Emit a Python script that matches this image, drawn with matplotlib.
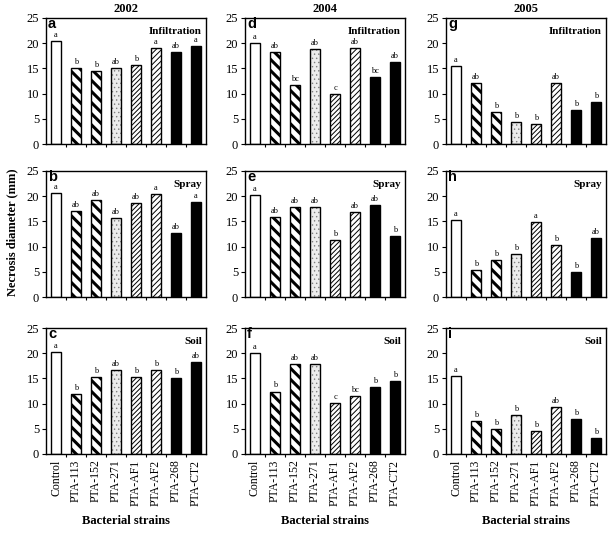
import matplotlib
matplotlib.use("Agg")
import matplotlib.pyplot as plt
import numpy as np

strains = ["Control", "PTA-113", "PTA-152", "PTA-271", "PTA-AF1", "PTA-AF2", "PTA-268", "PTA-CT2"]
years = ["2002", "2004", "2005"]
methods = ["Infiltration", "Spray", "Soil"]
panel_letters = [["a", "d", "g"], ["b", "e", "h"], ["c", "f", "i"]]

# values[row=method][col=year]
infil_2002 = [20.4, 15.1, 14.5, 15.0, 15.6, 19.1, 18.3, 19.4]
infil_2004 = [20.1, 18.2, 11.8, 18.9, 10.0, 19.1, 13.2, 16.2]
infil_2005 = [15.5, 12.1, 6.3, 4.4, 3.9, 12.1, 6.7, 8.3]
spray_2002 = [20.6, 17.0, 19.2, 15.7, 18.7, 20.5, 12.7, 18.8]
spray_2004 = [20.2, 15.9, 17.9, 17.9, 11.3, 16.9, 18.2, 12.1]
spray_2005 = [15.3, 5.3, 7.4, 8.5, 14.8, 10.3, 4.9, 11.8]
soil_2002 = [20.3, 11.9, 15.2, 16.7, 15.2, 16.7, 15.1, 18.2]
soil_2004 = [20.0, 12.4, 17.9, 17.9, 10.2, 11.6, 13.2, 14.4]
soil_2005 = [15.4, 6.6, 5.0, 7.7, 4.6, 9.3, 7.0, 3.2]

let_infil_2002 = ["a", "b", "b", "ab", "b", "a", "ab", "a"]
let_infil_2004 = ["a", "ab", "bc", "ab", "c", "ab", "bc", "ab"]
let_infil_2005 = ["a", "ab", "b", "b", "b", "ab", "b", "b"]
let_spray_2002 = ["a", "ab", "ab", "ab", "ab", "a", "ab", "a"]
let_spray_2004 = ["a", "ab", "ab", "ab", "b", "ab", "ab", "b"]
let_spray_2005 = ["a", "b", "b", "b", "a", "b", "b", "ab"]
let_soil_2002 = ["a", "b", "b", "ab", "b", "b", "b", "ab"]
let_soil_2004 = ["a", "b", "ab", "ab", "c", "bc", "b", "b"]
let_soil_2005 = ["a", "b", "b", "b", "b", "ab", "b", "b"]

values = [[infil_2002, infil_2004, infil_2005],
          [spray_2002, spray_2004, spray_2005],
          [soil_2002, soil_2004, soil_2005]]
letters = [[let_infil_2002, let_infil_2004, let_infil_2005],
           [let_spray_2002, let_spray_2004, let_spray_2005],
           [let_soil_2002, let_soil_2004, let_soil_2005]]

yticks = [0, 5, 10, 15, 20, 25]

# bar styles: (facecolor, hatch, hatchcolor, hatch linewidth)
styles = [
    ("white", None, None, 0),
    ("white", "\\" * 3, "black", 2.2),
    ("white", "\\" * 3, "black", 2.2),
    ("#ececec", "....", "#808080", 0.5),
    ("white", "/" * 7, "black", 0.7),
    ("white", "/" * 6, "black", 0.7),
    ("black", None, None, 0),
    ("black", None, None, 0),
]

W, H = 609, 533
fig = plt.figure(figsize=(W / 100, H / 100), dpi=100)

serif = "Liberation Serif"
sans = "Liberation Sans"

col_left = [46, 245, 446]
col_w = 160
row_top = [18, 171, 328]
row_h = 126

x = np.arange(len(strains))
bw = 0.46

for r in range(3):
    for c in range(3):
        left = col_left[c] / W
        bottom = 1 - (row_top[r] + row_h) / H
        ax = fig.add_axes([left, bottom, col_w / W, row_h / H])
        vals = values[r][c]
        for i, v in enumerate(vals):
            fc, hatch, hc, hlw = styles[i]
            if hatch:
                with plt.rc_context({"hatch.linewidth": hlw}):
                    b = ax.bar(x[i], v, width=bw, color=fc, edgecolor=hc,
                               hatch=hatch, linewidth=0)
                    if hasattr(b[0], "set_hatch_linewidth"):
                        b[0].set_hatch_linewidth(hlw)
                ax.bar(x[i], v, width=bw, fill=False, edgecolor="black", linewidth=1.0)
            else:
                ax.bar(x[i], v, width=bw, color=fc, edgecolor="black", linewidth=1.0)
            ax.text(x[i], v + 0.4, letters[r][c][i], ha="center", va="bottom",
                    fontsize=6, family=serif)
        ax.set_xlim(-0.5, len(strains) - 0.5)
        ax.set_ylim(0, 25)
        ax.set_yticks(yticks)
        ax.set_yticklabels([str(t) for t in yticks], family=serif, fontsize=9)
        ax.tick_params(axis="y", direction="out", length=3, width=0.8, pad=2)
        ax.set_xticks(x)
        if r == 2:
            ax.set_xticklabels(strains, rotation=90, family=serif, fontsize=8.5)
            ax.tick_params(axis="x", length=0, pad=4)
        else:
            ax.set_xticklabels([])
            ax.tick_params(axis="x", length=0)
        ax.set_xticks(np.arange(0.5, len(strains) - 1, 1), minor=True)
        ax.tick_params(axis="x", which="minor", direction="out", length=2.5, width=0.8)
        for s in ax.spines.values():
            s.set_linewidth(1.0)
        ax.text(0.012, 1.005, panel_letters[r][c], transform=ax.transAxes,
                ha="left", va="top", fontsize=10.5, fontweight="bold", family=sans)
        ax.text(0.975, 0.93, methods[r], transform=ax.transAxes, ha="right",
                va="top", fontsize=8, fontweight="bold", family=serif)
        if r == 0:
            ax.set_title(years[c], fontsize=9, fontweight="bold", family=serif, pad=4)
        if r == 2:
            fig.text((col_left[c] + col_w / 2) / W, 1 - 521 / H, "Bacterial strains",
                     ha="center", va="center", fontsize=9, fontweight="bold", family=serif)

fig.text(12 / W, 1 - 232 / H, "Necrosis diameter (mm)", rotation=90, ha="center",
         va="center", fontsize=9, fontweight="bold", family=serif)

fig.savefig("out.png", dpi=100)
